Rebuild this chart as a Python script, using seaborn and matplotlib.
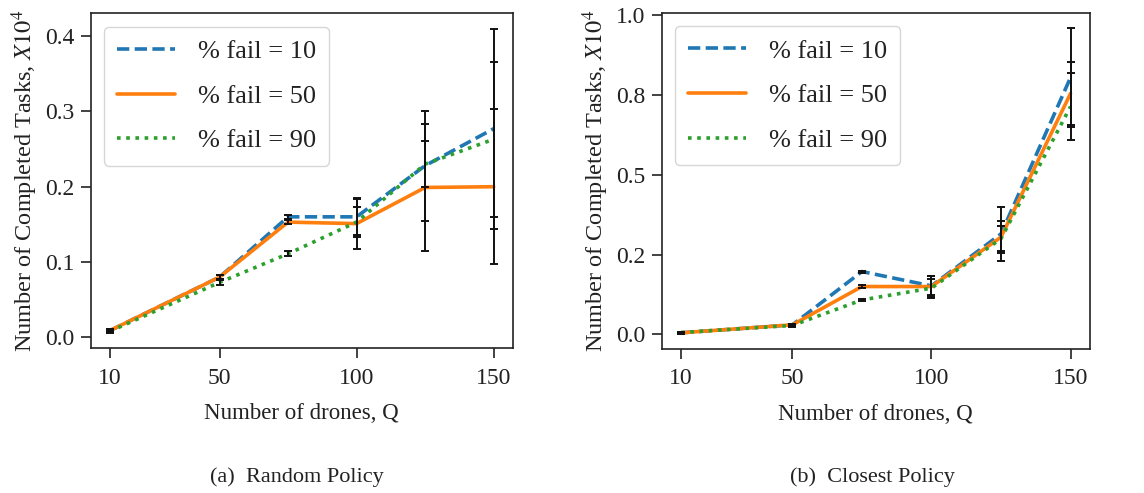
import matplotlib
matplotlib.use("Agg")
import matplotlib.pyplot as plt
import seaborn as sns
import pandas as pd
from matplotlib.ticker import FixedLocator, FormatStrFormatter

# ---------------- data ----------------
drones = [10, 50, 75, 100, 125, 150]
series_labels = ["% fail = 10", "% fail = 50", "% fail = 90"]

rand_10 = [0.009, 0.080, 0.160, 0.160, 0.228, 0.277]
rand_10_err = [0.002, 0.003, 0.003, 0.024, 0.073, 0.133]
rand_50 = [0.009, 0.080, 0.153, 0.151, 0.199, 0.200]
rand_50_err = [0.002, 0.003, 0.003, 0.034, 0.084, 0.103]
rand_90 = [0.008, 0.073, 0.111, 0.153, 0.230, 0.263]
rand_90_err = [0.002, 0.003, 0.003, 0.020, 0.031, 0.103]

clos_10 = [0.005, 0.030, 0.197, 0.152, 0.315, 0.805]
clos_10_err = [0.003, 0.004, 0.003, 0.030, 0.084, 0.155]
clos_50 = [0.005, 0.030, 0.150, 0.150, 0.305, 0.755]
clos_50_err = [0.003, 0.004, 0.004, 0.033, 0.050, 0.100]
clos_90 = [0.006, 0.028, 0.108, 0.145, 0.300, 0.714]
clos_90_err = [0.003, 0.004, 0.004, 0.030, 0.040, 0.105]

xticks = [10, 50, 100, 150]
left_yticks = [0.0, 0.1, 0.2, 0.3, 0.4]
right_yticks = [0.0, 0.25, 0.5, 0.75, 1.0]
captions = ["(a)  Random Policy", "(b)  Closest Policy"]
xlabel = "Number of drones, Q"
ylabel = "Number of Completed Tasks, $X10^4$"

# ---------------- style ----------------
sns.set_style("ticks")
plt.rcParams["font.family"] = ["Liberation Serif", "DejaVu Serif"]
plt.rcParams["mathtext.fontset"] = "stix"
plt.rcParams["axes.edgecolor"] = "#222222"
plt.rcParams["axes.linewidth"] = 1.2
plt.rcParams["xtick.color"] = "#222222"
plt.rcParams["ytick.color"] = "#222222"
plt.rcParams["text.color"] = "#222222"
plt.rcParams["axes.labelcolor"] = "#222222"

colors = ["#1f77b4", "#ff7f0e", "#2ca02c"]
styles = [(0, (3.4, 1.5)), "-", (0, (1, 1.55))]

fig = plt.figure(figsize=(11.44, 4.93), dpi=100)
ax_l = fig.add_axes([0.0793, 0.294, 0.369, 0.679])
ax_r = fig.add_axes([0.5784, 0.292, 0.3744, 0.682])

panels = [
    (ax_l, [rand_10, rand_50, rand_90], [rand_10_err, rand_50_err, rand_90_err], left_yticks),
    (ax_r, [clos_10, clos_50, clos_90], [clos_10_err, clos_50_err, clos_90_err], right_yticks),
]

for ax, ys, errs, yt in panels:
    for lab, y, e, c, ls in zip(series_labels, ys, errs, colors, styles):
        df = pd.DataFrame({"Q": drones, "val": y})
        sns.lineplot(data=df, x="Q", y="val", ax=ax, color=c, linestyle=ls,
                     linewidth=2.6, label=lab, zorder=2)
        ax.errorbar(drones, y, yerr=e, fmt="none", ecolor="#111111",
                    elinewidth=1.4, capsize=3, capthick=1.4, zorder=3)
    ax.xaxis.set_major_locator(FixedLocator(xticks))
    ax.yaxis.set_major_locator(FixedLocator(yt))
    ax.yaxis.set_major_formatter(FormatStrFormatter("%.1f"))
    ax.tick_params(labelsize=17, length=7.5, width=1.2, pad=4)
    ax.tick_params(axis="x", pad=6.5)
    ax.set_xlabel(xlabel, fontsize=16.5, labelpad=10.5)
    ax.set_ylabel(ylabel, fontsize=17.5, labelpad=4)
    leg = ax.legend(loc="upper left", fontsize=19, frameon=True,
                    fancybox=True, framealpha=0.8, edgecolor="#cccccc",
                    handlelength=2.2, borderpad=0.5, labelspacing=0.8,
                    handletextpad=0.85, borderaxespad=0.5)

fig.text(0.2596, 0.032, captions[0], ha="center", va="center", fontsize=16)
fig.text(0.7625, 0.032, captions[1], ha="center", va="center", fontsize=16)

fig.savefig("out.png", dpi=100)
